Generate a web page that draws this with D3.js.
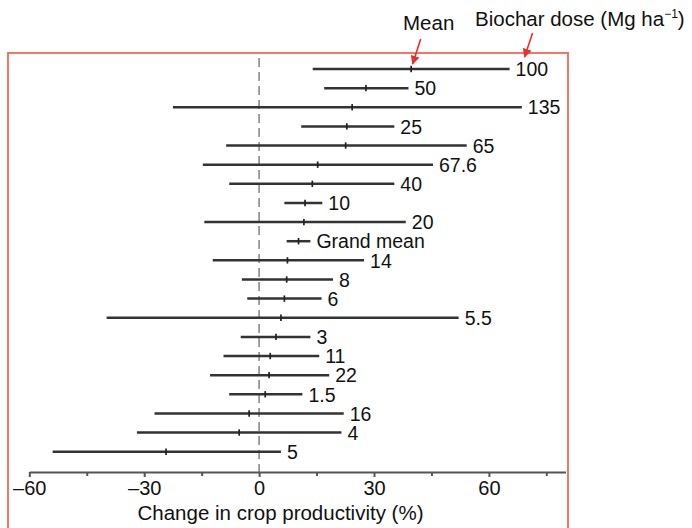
<!DOCTYPE html>
<html>
<head>
<meta charset="utf-8">
<script src="https://cdn.jsdelivr.net/npm/d3@7"></script>
<style>
  html, body { margin: 0; padding: 0; background: #fff; }
  svg { display: block; font-family: "Liberation Sans", Arial, Helvetica, sans-serif; }
</style>
</head>
<body>
<svg id="chart" width="692" height="528"></svg>
<script>
// Biochar dose (Mg ha-1) categories, top to bottom
const doses = ["100","50","135","25","65","67.6","40","10","20","Grand mean","14","8","6","5.5","3","11","22","1.5","16","4","5"];
// Mean change in crop productivity (%)
const means = [39.7,27.9,24.3,22.9,22.6,15.3,13.9,12.0,11.7,10.3,7.4,7.2,6.6,5.7,4.4,2.9,2.6,1.6,-2.6,-5.2,-24.3];
// Lower and upper confidence limits (%)
const lower = [14.0,17.0,-22.5,11.0,-8.6,-14.7,-7.8,6.6,-14.3,7.2,-12.1,-4.5,-3.1,-39.8,-4.8,-9.3,-12.8,-7.8,-27.3,-31.9,-53.9];
const upper = [65.4,39.0,68.6,35.3,54.2,45.4,35.3,16.5,38.3,13.4,27.4,19.3,16.3,52.1,13.4,15.7,18.3,11.3,22.1,21.5,5.7];
// Axis ticks
const majorTicks = [-60,-30,0,30,60];
const minorTicks = [-45,-15,15,45,75];
const xDomain = [-60, 80];

const svg = d3.select("#chart");
const x = d3.scaleLinear().domain(xDomain).range([29.3, 565.5]);
const y = d3.scalePoint().domain(doses).range([69, 451.7]);
const axisY = 472;
const red = "#e8302a";

// frame
svg.append("rect")
  .attr("x", 8).attr("y", 53).attr("width", 560).attr("height", 500)
  .attr("fill", "none").attr("stroke", "#ef6a58").attr("stroke-width", 1.8);

// zero line
svg.append("line")
  .attr("x1", x(0)).attr("x2", x(0)).attr("y1", 58).attr("y2", axisY)
  .attr("stroke", "#8a8a8a").attr("stroke-width", 1.6)
  .attr("stroke-dasharray", "9,5");

const rows = doses.map((d, i) => ({dose: d, mean: means[i], lo: lower[i], hi: upper[i]}));

const g = svg.append("g");
g.selectAll("line.ci").data(rows).join("line")
  .attr("class", "ci")
  .attr("x1", d => x(d.lo)).attr("x2", d => x(d.hi))
  .attr("y1", d => y(d.dose)).attr("y2", d => y(d.dose))
  .attr("stroke", "#333").attr("stroke-width", 2.5);

g.selectAll("line.mean").data(rows).join("line")
  .attr("class", "mean")
  .attr("x1", d => x(d.mean)).attr("x2", d => x(d.mean))
  .attr("y1", d => y(d.dose) - 3.2).attr("y2", d => y(d.dose) + 3.2)
  .attr("stroke", "#202020").attr("stroke-width", 1.7);

g.selectAll("text.lab").data(rows).join("text")
  .attr("class", "lab")
  .attr("x", d => x(d.hi) + 6)
  .attr("y", d => y(d.dose))
  .attr("dy", "0.37em")
  .attr("font-size", 19.5)
  .attr("fill", "#111")
  .text(d => d.dose);

// x axis
const fmt = v => v < 0 ? "\u2013" + Math.abs(v) : String(v);
const ax = svg.append("g").attr("transform", `translate(0,${axisY})`)
  .call(d3.axisBottom(x).tickValues(majorTicks).tickFormat(fmt).tickSize(5).tickSizeOuter(0));
ax.select(".domain").attr("stroke", "#555").attr("stroke-width", 2);
ax.selectAll(".tick line").attr("stroke", "#555").attr("stroke-width", 2);
ax.selectAll(".tick text").attr("y", 23).attr("dy", 0)
  .attr("font-size", 20).attr("fill", "#111")
  .attr("font-family", "'Liberation Sans', Arial, sans-serif");
const axm = svg.append("g").attr("transform", `translate(0,${axisY})`)
  .call(d3.axisBottom(x).tickValues(minorTicks).tickFormat("").tickSize(4).tickSizeOuter(0));
axm.select(".domain").remove();
axm.selectAll(".tick line").attr("stroke", "#555").attr("stroke-width", 2);

svg.append("text")
  .attr("x", 280.5).attr("y", 520)
  .attr("text-anchor", "middle")
  .attr("font-size", 20.5).attr("fill", "#111")
  .text("Change in crop productivity (%)");

// annotations
const defs = svg.append("defs");
defs.append("marker")
  .attr("id", "arr").attr("viewBox", "0 0 10 10")
  .attr("refX", 9).attr("refY", 5)
  .attr("markerWidth", 9).attr("markerHeight", 9)
  .attr("markerUnits", "userSpaceOnUse")
  .attr("orient", "auto")
  .append("path").attr("d", "M0,0 L10,5 L0,10 z").attr("fill", red);

const meanTipX = x(means[0]) + 1.5, meanTipY = y(doses[0]) - 5;
svg.append("line")
  .attr("x1", meanTipX + 8).attr("y1", meanTipY - 25)
  .attr("x2", meanTipX).attr("y2", meanTipY)
  .attr("stroke", red).attr("stroke-width", 1.6)
  .attr("marker-end", "url(#arr)");
svg.append("text")
  .attr("x", 403).attr("y", 30)
  .attr("font-size", 20.5).attr("fill", "#111")
  .text("Mean");

const doseTipX = x(upper[0]) + 15, doseTipY = 57;
svg.append("line")
  .attr("x1", doseTipX + 8).attr("y1", doseTipY - 24)
  .attr("x2", doseTipX).attr("y2", doseTipY)
  .attr("stroke", red).attr("stroke-width", 1.6)
  .attr("marker-end", "url(#arr)");
const t = svg.append("text")
  .attr("x", 475).attr("y", 26)
  .attr("font-size", 20.5).attr("fill", "#111");
t.append("tspan").text("Biochar dose (Mg ha");
t.append("tspan").attr("font-size", 12).attr("dy", -8).text("\u22121");
t.append("tspan").attr("dy", 8).text(")");
</script>
</body>
</html>
